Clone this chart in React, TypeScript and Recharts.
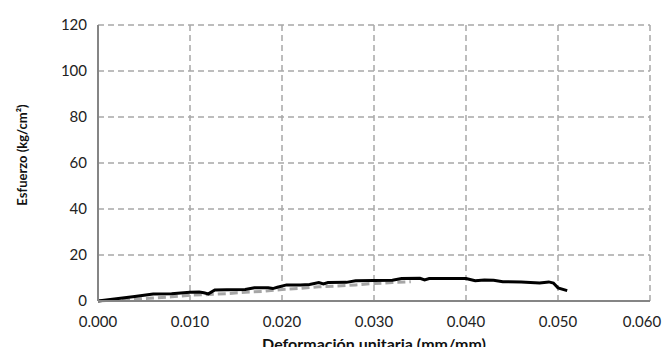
import { LineChart, Line, XAxis, YAxis, CartesianGrid } from 'recharts';

// strain (mm/mm) and stress (kg/cm²)
const strainA = [0, 0.002, 0.004, 0.006, 0.008, 0.01, 0.011, 0.0115, 0.012, 0.0127, 0.014, 0.016, 0.017, 0.0185, 0.019, 0.0195, 0.0205, 0.022, 0.023, 0.024, 0.0245, 0.025, 0.027, 0.028, 0.03, 0.032, 0.033, 0.035, 0.0355, 0.036, 0.04, 0.041, 0.042, 0.043, 0.044, 0.046, 0.048, 0.049, 0.0495, 0.05, 0.051];
const stressA = [0, 1, 2, 3, 3.2, 3.8, 3.9, 3.6, 3.1, 4.8, 4.9, 5, 5.8, 5.8, 5.4, 6, 7, 7, 7.2, 8, 7.4, 8, 8.1, 8.8, 8.9, 9, 9.8, 9.9, 9.2, 9.8, 9.8, 8.8, 9.1, 9, 8.4, 8.3, 7.8, 8.3, 7.8, 5.7, 4.5];

const strainB = [0, 0.004, 0.006, 0.008, 0.01, 0.012, 0.014, 0.016, 0.018, 0.02, 0.022, 0.024, 0.026, 0.028, 0.03, 0.032, 0.034];
const stressB = [0, 0.8, 1.3, 1.8, 2.5, 2.8, 3.2, 3.8, 4.2, 5, 5.5, 6.2, 6.5, 7, 7.6, 8, 8.4];

const xTicks = [0, 0.01, 0.02, 0.03, 0.04, 0.05, 0.06];
const yTicks = [0, 20, 40, 60, 80, 100, 120];

const seriesA = strainA.map((x, i) => ({ x, y: stressA[i] }));
const seriesB = strainB.map((x, i) => ({ x, y: stressB[i] }));

const font = 'Lato, "Open Sans", sans-serif';

// last label is pulled in so it stays inside the picture, like Excel does
const XTick = ({ x, y, payload }: any) => {
  const last = payload.value === xTicks[xTicks.length - 1];
  return (
    <text
      x={last ? x - 8 : x}
      y={y + 18}
      textAnchor="middle"
      fill="#222"
      fontSize={15}
      fontFamily={font}
    >
      {payload.value.toFixed(3)}
    </text>
  );
};

const YTitle = () => (
  <text
    x={22}
    y={155}
    transform="rotate(-90 22 155)"
    textAnchor="middle"
    dominantBaseline="central"
    fill="#111"
    fontSize={13}
    fontWeight={700}
    fontFamily={font}
  >
    Esfuerzo (kg/cm²)
  </text>
);

export default function App() {
  return (
    <div style={{ position: 'fixed', left: 0, top: 0, width: 666, height: 347, background: '#fff' }}>
      <LineChart width={666} height={347} margin={{ top: 25, right: 16, bottom: 0, left: 0 }}>
        <CartesianGrid stroke="#a8a8a8" strokeWidth={1.5} strokeDasharray="6 4" />
        <XAxis
          type="number"
          dataKey="x"
          domain={[0, 0.06]}
          ticks={xTicks}
          height={46}
          tickLine={false}
          axisLine={{ stroke: '#858585', strokeWidth: 2 }}
          tick={<XTick />}
          label={{
            value: 'Deformación unitaria (mm/mm)',
            position: 'insideBottom',
            offset: -3,
            style: { fill: '#111', fontSize: 16, fontWeight: 700, fontFamily: font },
          }}
        />
        <YAxis
          type="number"
          domain={[0, 120]}
          ticks={yTicks}
          width={98}
          tickLine={false}
          axisLine={{ stroke: '#858585', strokeWidth: 2 }}
          tick={{ fill: '#222', fontSize: 15, fontFamily: font }}
          tickMargin={5}
          label={<YTitle />}
        />
        <Line
          data={seriesB}
          dataKey="y"
          type="linear"
          stroke="#a6a6a6"
          strokeWidth={3}
          strokeDasharray="8 4"
          dot={false}
          isAnimationActive={false}
        />
        <Line
          data={seriesA}
          dataKey="y"
          type="linear"
          stroke="#000"
          strokeWidth={3}
          dot={false}
          isAnimationActive={false}
        />
      </LineChart>
    </div>
  );
}
